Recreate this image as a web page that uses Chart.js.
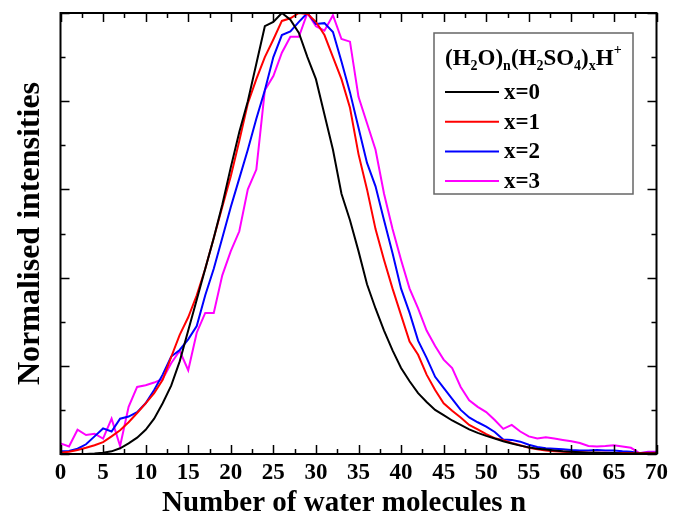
<!DOCTYPE html>
<html>
<head>
<meta charset="utf-8">
<script src="https://cdn.jsdelivr.net/npm/chart.js@4.4.0/dist/chart.umd.min.js"></script>
<style>
    html, body { margin: 0; padding: 0; background: #fff; }
    #contenedor { width: 673px; height: 521px; }
</style>
</head>
<body>
<div id="contenedor"><canvas id="graficaAgua"></canvas></div>
<script>
// number of water molecules n
const waterN = [0, 1, 2, 3, 4, 5, 6, 7, 8, 9, 10, 11, 12, 13, 14, 15, 16, 17, 18, 19, 20,
    21, 22, 23, 24, 25, 26, 27, 28, 29, 30, 31, 32, 33, 34, 35, 36, 37, 38, 39, 40,
    41, 42, 43, 44, 45, 46, 47, 48, 49, 50, 51, 52, 53, 54, 55, 56, 57, 58, 59, 60,
    61, 62, 63, 64, 65, 66, 67, 68, 69, 70];

const x0 = [0, 0, 0, 0, 0.001, 0.003, 0.006, 0.013, 0.024, 0.037, 0.055, 0.08, 0.115, 0.155, 0.21, 0.28, 0.35, 0.42, 0.49, 0.565,
    0.65, 0.73, 0.80, 0.885, 0.97, 0.98, 1.0, 0.985, 0.955, 0.9, 0.85, 0.77, 0.69, 0.59, 0.53, 0.46, 0.385, 0.33, 0.28, 0.235,
    0.195, 0.165, 0.138, 0.118, 0.1, 0.088, 0.076, 0.066, 0.056, 0.048, 0.041, 0.035, 0.029, 0.024, 0.019, 0.015, 0.012, 0.01, 0.008, 0.006,
    0.005, 0.004, 0.003, 0.003, 0.002, 0.002, 0.001, 0.001, 0.001, 0.001, 0.001];

const x1 = [0.003, 0.005, 0.009, 0.014, 0.02, 0.027, 0.04, 0.054, 0.072, 0.093, 0.115, 0.138, 0.168, 0.22, 0.27, 0.31, 0.36, 0.42, 0.49, 0.56,
    0.63, 0.71, 0.795, 0.85, 0.9, 0.94, 0.982, 0.988, 1.0, 0.998, 0.98, 0.95, 0.9, 0.85, 0.785, 0.68, 0.6, 0.51, 0.44, 0.375,
    0.315, 0.255, 0.225, 0.18, 0.145, 0.115, 0.098, 0.083, 0.066, 0.056, 0.045, 0.036, 0.031, 0.025, 0.02, 0.014, 0.011, 0.008, 0.006, 0.005,
    0.004, 0.004, 0.003, 0.003, 0.003, 0.002, 0.002, 0.002, 0.002, 0.002, 0.002];

const x2 = [0.006, 0.007, 0.012, 0.022, 0.04, 0.058, 0.051, 0.08, 0.085, 0.095, 0.115, 0.145, 0.18, 0.221, 0.236, 0.26, 0.29, 0.36, 0.42, 0.49,
    0.56, 0.625, 0.69, 0.76, 0.825, 0.9, 0.95, 0.958, 0.98, 1.0, 0.975, 0.977, 0.957, 0.89, 0.82, 0.74, 0.66, 0.607, 0.53, 0.455,
    0.375, 0.32, 0.257, 0.218, 0.175, 0.15, 0.125, 0.1, 0.083, 0.072, 0.062, 0.05, 0.033, 0.032, 0.028, 0.021, 0.016, 0.013, 0.012, 0.011,
    0.009, 0.008, 0.008, 0.009, 0.008, 0.008, 0.006, 0.005, 0.002, 0.003, 0.003];

const x3 = [0.024, 0.017, 0.055, 0.043, 0.046, 0.035, 0.08, 0.018, 0.107, 0.152, 0.156, 0.162, 0.17, 0.206, 0.234, 0.19, 0.275, 0.32, 0.32, 0.405,
    0.46, 0.505, 0.6, 0.645, 0.825, 0.857, 0.91, 0.946, 0.946, 1.0, 0.97, 0.96, 0.995, 0.941, 0.935, 0.81, 0.75, 0.69, 0.59, 0.51,
    0.44, 0.375, 0.33, 0.28, 0.245, 0.214, 0.195, 0.152, 0.122, 0.107, 0.095, 0.077, 0.057, 0.066, 0.051, 0.04, 0.035, 0.038, 0.035, 0.032,
    0.029, 0.025, 0.018, 0.017, 0.018, 0.02, 0.017, 0.014, 0.002, 0.005, 0.005];

const nombres = ['x=0', 'x=1', 'x=2', 'x=3'];
const series = [x0, x1, x2, x3];
const colores = ['#000000', '#ff0000', '#0000ff', '#ff00ff'];

const xTicks = [0, 5, 10, 15, 20, 25, 30, 35, 40, 45, 50, 55, 60, 65, 70];

const fuente = '"Liberation Serif", "Times New Roman", serif';

// ticks hacia dentro en los cuatro lados + marco
const marcoPlugin = {
    id: 'marco',
    afterDatasetsDraw(chart) {
        const { ctx, chartArea: a, scales } = chart;
        ctx.save();
        ctx.strokeStyle = '#000';
        ctx.lineWidth = 1.5;
        ctx.beginPath();
        for (let v = 0; v <= 70; v += 2.5) {
            const px = Math.round(scales.x.getPixelForValue(v)) + 0.5;
            const len = (v % 5 === 0) ? 9 : 5;
            ctx.moveTo(px, a.bottom); ctx.lineTo(px, a.bottom - len);
            ctx.moveTo(px, a.top); ctx.lineTo(px, a.top + len);
        }
        for (let i = 0; i <= 10; i++) {
            const py = Math.round(scales.y.getPixelForValue(i / 10)) + 0.5;
            const len = (i % 2 === 0) ? 9 : 5;
            ctx.moveTo(a.left, py); ctx.lineTo(a.left + len, py);
            ctx.moveTo(a.right, py); ctx.lineTo(a.right - len, py);
        }
        ctx.stroke();
        ctx.lineWidth = 2;
        ctx.strokeRect(a.left, a.top, a.right - a.left, a.bottom - a.top);
        ctx.restore();
    }
};

// leyenda con subíndices
const leyendaPlugin = {
    id: 'leyenda',
    afterDraw(chart) {
        const ctx = chart.ctx;
        const bx = 434, by = 33, bw = 199, bh = 161;
        ctx.save();
        ctx.fillStyle = '#fff';
        ctx.fillRect(bx, by, bw, bh);
        ctx.strokeStyle = '#666';
        ctx.lineWidth = 1.5;
        ctx.strokeRect(bx, by, bw, bh);

        const partes = [['(H', 0], ['2', 1], ['O)', 0], ['n', 1], ['(H', 0], ['2', 1], ['SO', 0], ['4', 1], [')', 0], ['x', 1], ['H', 0], ['+', 2]];
        let cx = 445;
        const base = 65;
        ctx.fillStyle = '#000';
        ctx.textBaseline = 'alphabetic';
        partes.forEach(([t, tipo]) => {
            ctx.font = tipo === 0 ? `bold 23px ${fuente}` : `bold 14px ${fuente}`;
            const y = tipo === 1 ? base + 5 : (tipo === 2 ? base - 11 : base);
            ctx.fillText(t, cx, y);
            cx += ctx.measureText(t).width;
        });

        ctx.font = `bold 23px ${fuente}`;
        ctx.textBaseline = 'middle';
        chart.data.datasets.forEach((ds, i) => {
            const y = 92 + i * 29.7;
            ctx.strokeStyle = ds.borderColor;
            ctx.lineWidth = 2;
            ctx.beginPath();
            ctx.moveTo(445, y); ctx.lineTo(499, y);
            ctx.stroke();
            ctx.fillStyle = '#000';
            ctx.fillText(ds.label, 504, y + 1);
        });
        ctx.restore();
    }
};

new Chart(document.getElementById('graficaAgua'), {
    type: 'line',
    data: {
        datasets: series.map((s, i) => ({
            label: nombres[i],
            data: s.map((v, j) => ({ x: waterN[j], y: v })),
            borderColor: colores[i],
            backgroundColor: colores[i],
            borderWidth: 2,
            pointRadius: 0,
            tension: 0,
            fill: false
        }))
    },
    options: {
        responsive: true,
        maintainAspectRatio: false,
        animation: false,
        layout: { padding: { top: 13, right: 12, left: 0, bottom: 0 } },
        plugins: {
            legend: { display: false },
            tooltip: { enabled: false }
        },
        scales: {
            x: {
                type: 'linear',
                min: 0,
                max: 70,
                afterBuildTicks: scale => {
                    scale.ticks = xTicks.map(v => ({ value: v }));
                },
                afterFit: scale => { scale.height = 67; },
                grid: { display: false, drawTicks: false },
                border: { display: false },
                ticks: {
                    color: '#000',
                    padding: 5,
                    maxRotation: 0,
                    autoSkip: false,
                    font: { family: fuente, size: 23, weight: 'bold' }
                },
                title: {
                    display: true,
                    text: 'Number of water molecules n\u2003',
                    color: '#000',
                    padding: { top: -3, bottom: 0 },
                    font: { family: fuente, size: 29, weight: 'bold' }
                }
            },
            y: {
                min: 0,
                max: 1,
                afterFit: scale => { scale.width = 60.5; },
                grid: { display: false, drawTicks: false },
                border: { display: false },
                ticks: { display: false, stepSize: 0.2 },
                title: {
                    display: true,
                    text: 'Normalised intensities',
                    color: '#000',
                    padding: { top: 12, bottom: 0 },
                    font: { family: fuente, size: 32, weight: 'bold' }
                }
            }
        }
    },
    plugins: [marcoPlugin, leyendaPlugin]
});
</script>
</body>
</html>
